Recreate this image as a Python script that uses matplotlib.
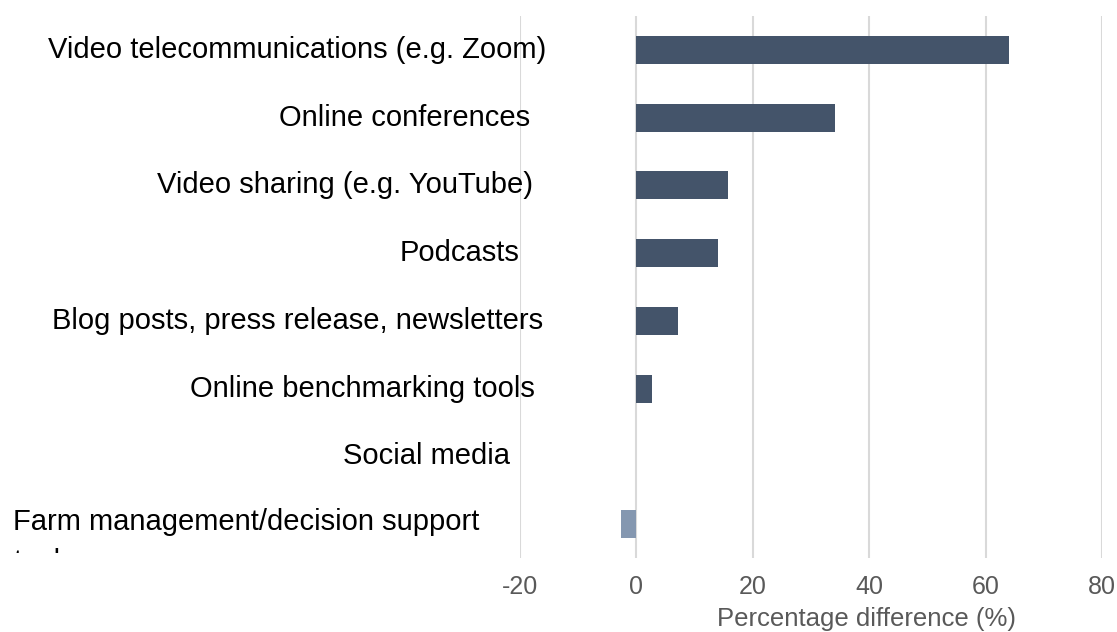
import matplotlib.pyplot as plt
from matplotlib.transforms import Bbox

plt.rcParams['font.family'] = ['Liberation Sans', 'DejaVu Sans']

categories = ['Video telecommunications (e.g. Zoom)', 'Online conferences',
              'Video sharing (e.g. YouTube)', 'Podcasts',
              'Blog posts, press release, newsletters', 'Online benchmarking tools',
              'Social media', 'Farm management/decision support\ntools']
values = [64.0, 34.2, 15.8, 14.1, 7.1, 2.6, 0.0, -2.6]
# left edge (px) where each label starts in the original
label_x = [48, 279, 157, 400, 52, 190, 343, 13]
ticks = [-20, 0, 20, 40, 60, 80]

W, H = 1117, 632
fig = plt.figure(figsize=(W / 100, H / 100), dpi=100)
ax = fig.add_axes([520 / W, 1 - 558 / H, 582 / W, 542 / H])

colors = ['#44546A' if v >= 0 else '#8497B0' for v in values]
ypos = list(range(len(values)))
ax.barh(ypos, values, height=0.41, color=colors, zorder=3)

ax.set_xlim(-20, 80)
ax.set_ylim(len(values) - 0.5, -0.5)
ax.set_xticks(ticks)
ax.set_xticklabels([str(t) for t in ticks], fontsize=18, color='#595959')
ax.set_yticks([])
ax.tick_params(axis='x', length=0, pad=12)
ax.grid(axis='x', color='#D9D9D9', linewidth=1.5, zorder=0)
for s in ax.spines.values():
    s.set_visible(False)
ax.set_xlabel('Percentage difference (%)', fontsize=18.5, color='#595959')
ax.xaxis.set_label_coords(0.595, -0.091)

for cat, lx, y in zip(categories, label_x, ypos):
    yp = ax.transData.transform((0, y))[1]
    if '\n' in cat:
        t = fig.text(lx / W, (yp + 16) / H, cat, ha='left', va='top',
                     fontsize=21, color='black', linespacing=1.55)
        t.set_clip_box(Bbox.from_extents(0, H - 553, W, H))
        t.set_clip_on(True)
    else:
        fig.text(lx / W, yp / H, cat, ha='left', va='center', fontsize=21, color='black')

fig.savefig('out.png', dpi=100)
